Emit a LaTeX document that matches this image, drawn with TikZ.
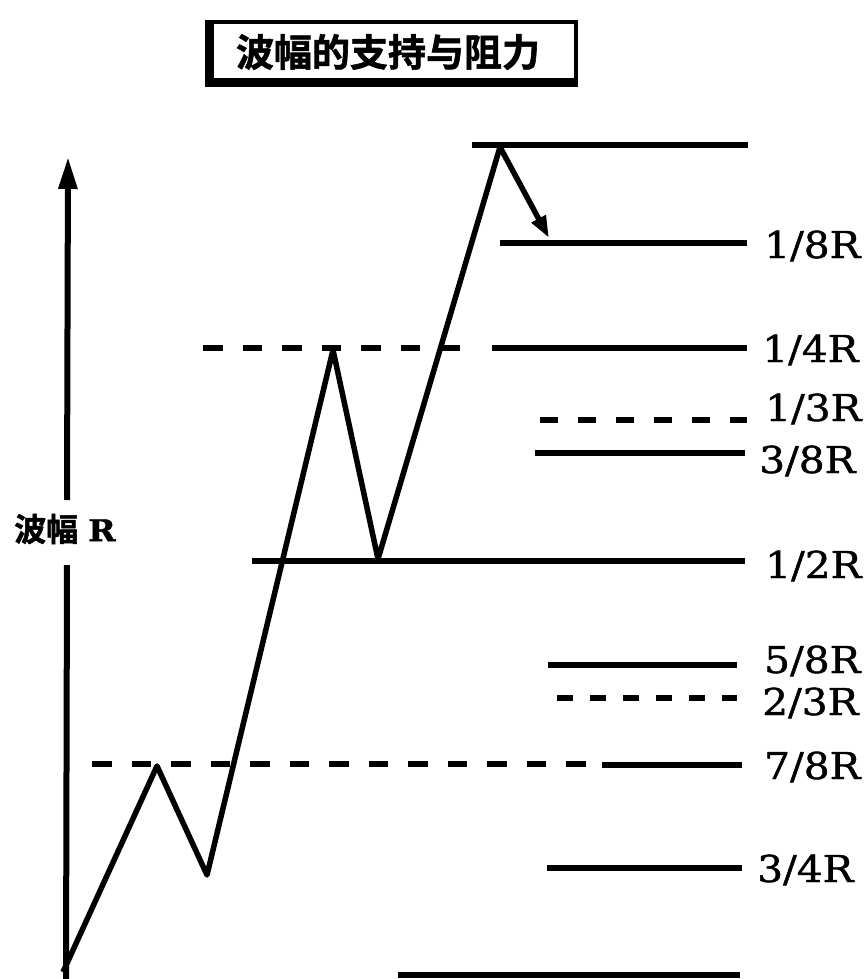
\documentclass[tikz,border=0pt]{standalone}
\usepackage{fontspec}
\newfontfamily\cjk{Noto Sans CJK SC}[BoldFont={Noto Sans CJK SC Bold}, BoldFeatures={FakeBold=1.5}]
\newfontfamily\lbl{DejaVu Serif}[FakeStretch=1.1, FakeBold=1.2]
\usetikzlibrary{arrows.meta}
\begin{document}
\begin{tikzpicture}[x=1pt,y=-1pt,
  lvl/.style={line width=6.5pt},
  dlvl/.style={line width=6pt, dash pattern=on 19.5pt off 20pt},
  wave/.style={line width=5.5pt, line join=round},
  lab/.style={anchor=base west, inner sep=0pt, font=\lbl\fontsize{37}{40}\selectfont}]
\useasboundingbox[fill=white] (0,0) rectangle (867,979);

% title
\node[inner sep=0pt] (title) at (388,52) {\cjk\bfseries\fontsize{38}{40}\selectfont 波幅的支持与阻力};
\draw[line width=4pt] (207,22) -- (576,22) -- (576,83);
\draw[line width=9pt] (209.5,20) -- (209.5,87);
\draw[line width=9pt] (205,82.5) -- (578,82.5);

% vertical axis
\coordinate (axtop) at (68,157);
\coordinate (axmid) at (67,500);
\coordinate (axlow) at (67,565);
\coordinate (axbot) at (66,979);
\draw[line width=6pt, -{Triangle[length=32pt,width=18pt]}] (axmid) -- (axtop);
\draw[line width=6pt] (axlow) -- (axbot);
\node[anchor=west, inner sep=0pt] (axlab) at (14,529)
  {\cjk\bfseries\fontsize{32}{34}\selectfont 波幅\hspace{10pt}{\lbl\fontsize{30}{32}\selectfont R}};

% levels
\draw[lvl] (472,145) -- (748,145);
\draw[lvl] (500,243) -- (747,243);
\draw[dlvl] (203,348) -- (472,348);
\draw[lvl] (492,348) -- (747,348);
\draw[dlvl, dash pattern=on 18pt off 20pt] (540,420) -- (747,420);
\draw[lvl] (535,453) -- (745,453);
\draw[lvl] (252,561) -- (745,561);
\draw[lvl] (548,665) -- (737,665);
\draw[dlvl, dash pattern=on 16pt off 17pt] (557,698) -- (737,698);
\draw[dlvl] (92,764) -- (588,764);
\draw[lvl] (602,765) -- (742,765);
\draw[lvl] (547,868) -- (742,868);
\draw[lvl] (398,975) -- (740,975);

% labels
\node[lab] (l18) at (764,258) {1/8R};
\node[lab] (l14) at (762,362) {1/4R};
\node[lab] (l13) at (765,421) {1/3R};
\node[lab] (l38) at (759,473) {3/8R};
\node[lab] (l12) at (765,578) {1/2R};
\node[lab] (l58) at (764,673) {5/8R};
\node[lab] (l23) at (762,715) {2/3R};
\node[lab] (l78) at (764,779) {7/8R};
\node[lab] (l34) at (757,882) {3/4R};

% price path
\coordinate (p0) at (63,972);
\coordinate (p1) at (157,766);
\coordinate (p2) at (207,875);
\coordinate (p3) at (333,350);
\coordinate (p4) at (378,559);
\coordinate (p5) at (500,147);
\coordinate (pe) at (549,238);
\draw[wave] (p0) -- (p1) -- (p2) -- (p3) -- (p4) -- (p5);
\draw[wave, -{Triangle[length=22pt,width=15pt]}] (p5) -- (pe);
\end{tikzpicture}
\end{document}
